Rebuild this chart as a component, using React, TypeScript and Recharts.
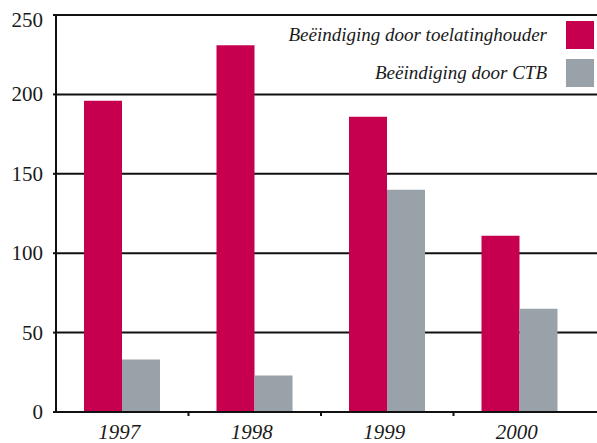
import { BarChart, Bar, XAxis, YAxis, CartesianGrid } from 'recharts'

const years = ['1997', '1998', '1999', '2000']
const byHolder = [196, 231, 186, 111]
const byCtb = [33, 23, 140, 65]
const seriesNames = ['Beëindiging door toelatinghouder', 'Beëindiging door CTB']
const yTicks = [0, 50, 100, 150, 200, 250]

const RED = '#c6004f'
const GREY = '#9aa2a9'
const SERIF = "'Liberation Serif', 'DejaVu Serif', serif"
const seriesColors = [RED, GREY]

const data = years.map((year, i) => ({ year, holder: byHolder[i], ctb: byCtb[i] }))

function YTick({ x, y, payload }: { x?: number; y?: number; payload?: { value: number } }) {
  const v = payload?.value ?? 0
  return (
    <text x={(x ?? 0) - 8} y={(y ?? 0) + (v === 250 ? 12 : 7)} textAnchor="end" fontFamily={SERIF} fontSize={21} fill="#1a1a1a">
      {v}
    </text>
  )
}

type XTickProps = { x?: number; y?: number; index?: number; payload?: { value: string; offset?: number } }

function XTick({ x, y, index, payload }: XTickProps) {
  const cx = x ?? 0
  const half = payload?.offset ?? 0
  return (
    <g>
      {/* small separator tick at the left edge of each band, skipped for the first */}
      {index ? <line x1={cx - half} x2={cx - half} y1={(y ?? 0) - 8} y2={(y ?? 0) - 4} stroke="#111" strokeWidth={2} /> : null}
      <text x={cx - 3} y={439} textAnchor="middle" fontFamily={SERIF} fontStyle="italic" fontSize={21} fill="#1a1a1a">
        {payload?.value}
      </text>
    </g>
  )
}

function LegendBox() {
  return (
    <div style={{ position: 'absolute', top: 21, right: 3, display: 'flex', flexDirection: 'column', alignItems: 'flex-end', gap: 10 }}>
      {seriesNames.map((name, i) => (
        <div key={name} style={{ display: 'flex', alignItems: 'center' }}>
          <span style={{ fontFamily: SERIF, fontStyle: 'italic', fontSize: 19, color: '#1a1a1a', marginRight: 19 }}>{name}</span>
          <span style={{ display: 'inline-block', width: 28, height: 28, background: seriesColors[i] }} />
        </div>
      ))}
    </div>
  )
}

export default function App() {
  return (
    <div style={{ position: 'absolute', top: 0, left: 0, width: 597, height: 443, background: '#fff' }}>
      <BarChart width={597} height={443} data={data} margin={{ top: 15, right: 0, bottom: 0, left: 0 }} barGap={0} barSize={38}>
        <CartesianGrid vertical={false} stroke="#111" strokeWidth={2} />
        <XAxis
          dataKey="year"
          height={31}
          padding={{ left: 0, right: 11 }}
          axisLine={{ stroke: '#111', strokeWidth: 2 }}
          tickLine={false}
          tick={<XTick />}
          interval={0}
        />
        <YAxis
          width={56}
          domain={[0, 250]}
          ticks={yTicks}
          interval={0}
          axisLine={{ stroke: '#111', strokeWidth: 2 }}
          tickLine={{ stroke: '#111', strokeWidth: 2 }}
          tickSize={3}
          tick={<YTick />}
        />
        <Bar dataKey="holder" name={seriesNames[0]} fill={RED} isAnimationActive={false} />
        <Bar dataKey="ctb" name={seriesNames[1]} fill={GREY} isAnimationActive={false} />
      </BarChart>
      <LegendBox />
    </div>
  )
}
